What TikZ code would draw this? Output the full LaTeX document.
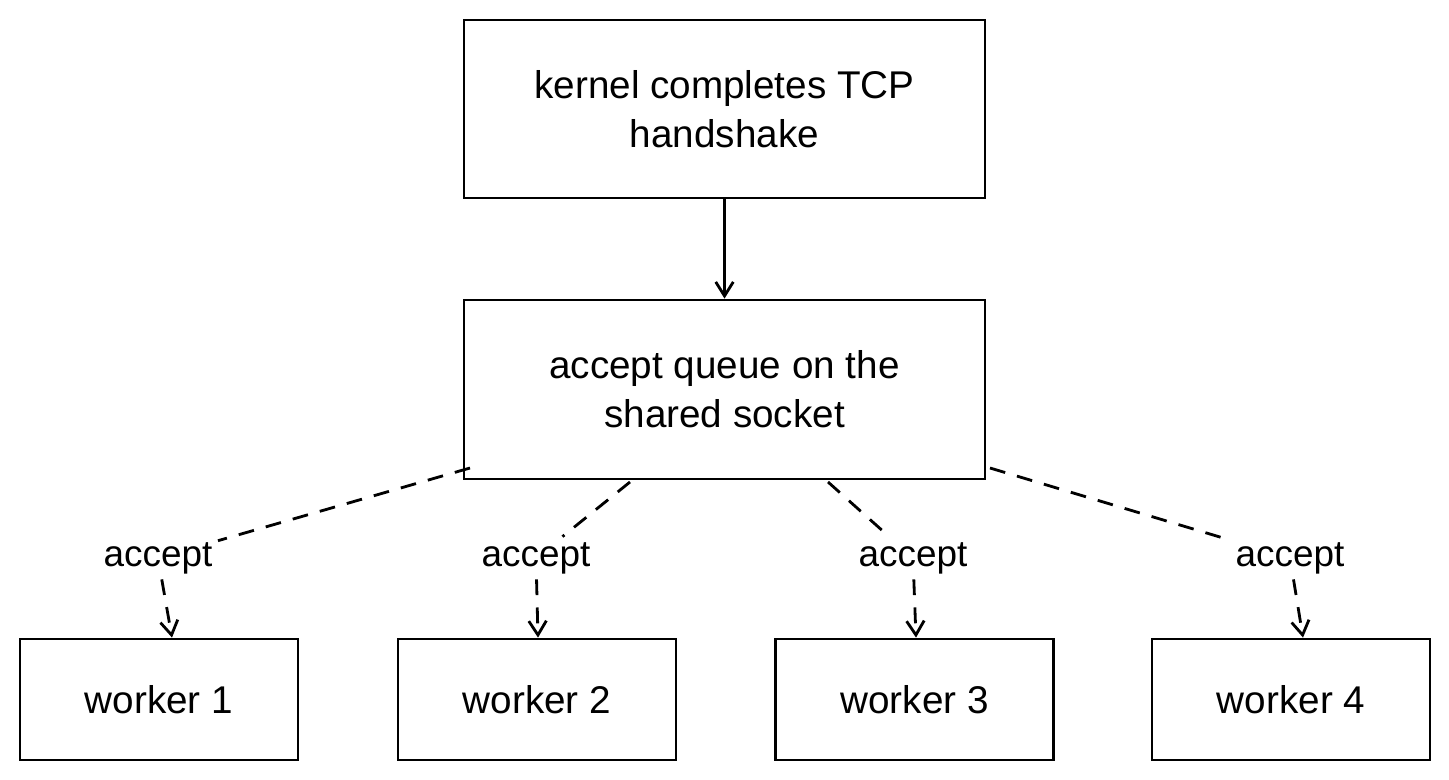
\documentclass[tikz,border=0pt]{standalone}
\usepackage{fontspec}
\setmainfont{Liberation Sans}
\usetikzlibrary{arrows.meta, positioning}
\begin{document}
\begin{tikzpicture}[x=0.02cm, y=-0.02cm,
  box/.style={draw, line width=1.6pt, font=\fontsize{22}{28}\selectfont, align=center, inner sep=0pt},
  lbl/.style={font=\fontsize{21}{25}\selectfont, inner sep=3pt},
  link/.style={line width=1.6pt, dash pattern=on 9pt off 7pt, -{Straight Barb[length=8pt, width=10pt]}},
]
\useasboundingbox (0,0) rectangle (1449,780);
% Boxes
\node[box, minimum width=10.42cm, minimum height=3.56cm] (kernel) at (724.5,109) {kernel completes TCP\\handshake};
\node[box, minimum width=10.42cm, minimum height=3.58cm] (queue) at (724.5,389.5) {accept queue on the\\shared socket};
\node[box, minimum width=5.56cm, minimum height=2.42cm] (w1) at (159,699.5) {worker 1};
\node[box, minimum width=5.56cm, minimum height=2.42cm] (w2) at (537,699.5) {worker 2};
\node[box, minimum width=5.56cm, minimum height=2.42cm] (w3) at (914.5,699.5) {worker 3};
\node[box, minimum width=5.56cm, minimum height=2.42cm] (w4) at (1291,699.5) {worker 4};

\draw[line width=1.6pt, -{Straight Barb[length=8pt, width=10pt]}] (kernel) -- (queue);

% Accept links
\node[lbl] (a1) at (158,558) {accept};
\node[lbl] (a2) at (536,558) {accept};
\node[lbl] (a3) at (913,558) {accept};
\node[lbl] (a4) at (1290,558) {accept};
\coordinate (q1) at (470,468);
\coordinate (q2) at (630,482);
\coordinate (q3) at (828,482);
\coordinate (q4) at (990,468);
\draw[link] (q1) -- (a1) -- ([xshift=0.26cm]w1.north);
\draw[link] (q2) -- (a2) -- ([xshift=0.02cm]w2.north);
\draw[link] (q3) -- (a3) -- ([xshift=0.03cm]w3.north);
\draw[link] (q4) -- (a4) -- ([xshift=0.24cm]w4.north);
\end{tikzpicture}
\end{document}
